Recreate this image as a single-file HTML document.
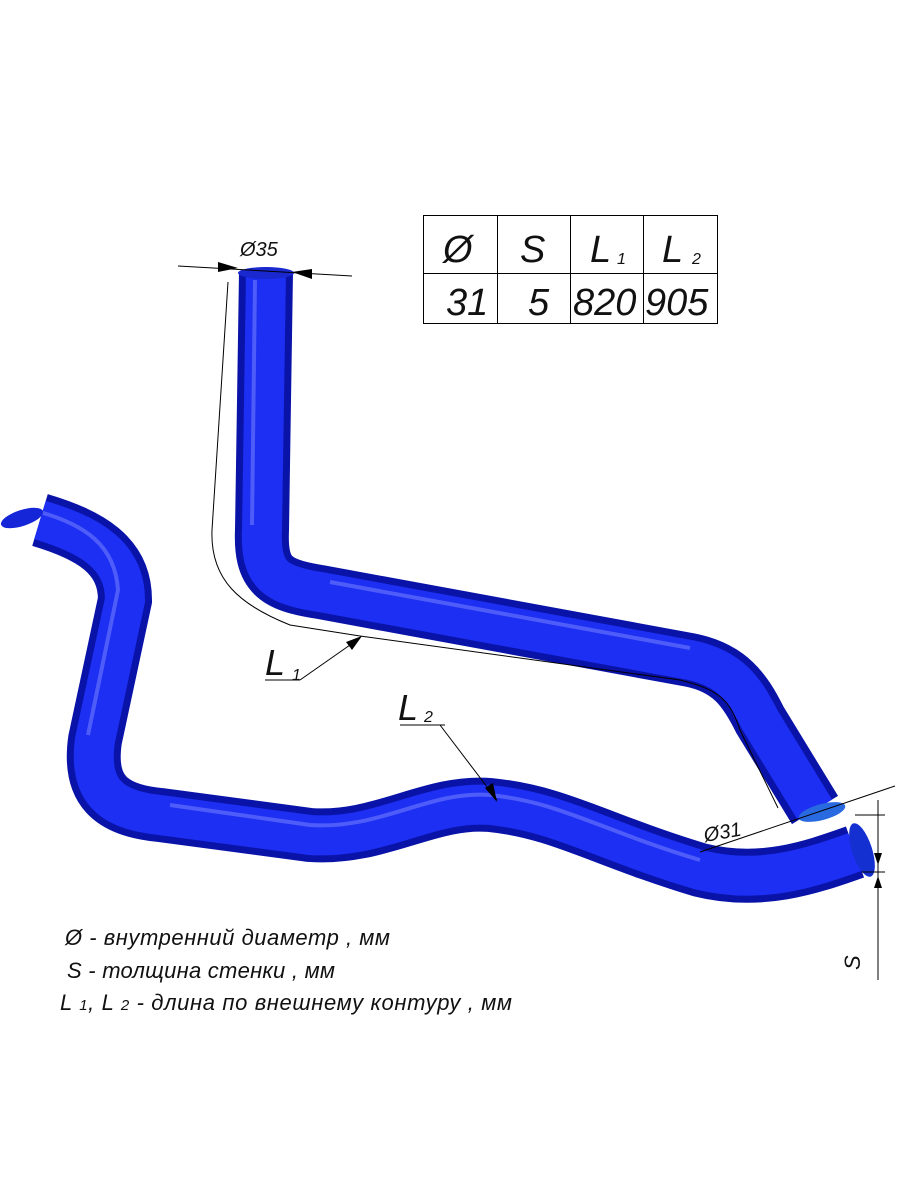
<!DOCTYPE html>
<html><head><meta charset="utf-8"><style>
body{margin:0;background:#fff;width:899px;height:1200px;overflow:hidden}
svg{display:block}
text{font-family:"Liberation Sans",sans-serif;font-style:italic;fill:#111}
</style></head><body>
<svg width="899" height="1200" viewBox="0 0 899 1200">
<!-- lower hose -->
<path d="M40,520 C90,535 125,555 125,600 L95,740 C88,790 110,810 160,815 L310,835 C380,840 430,800 490,805 C560,812 600,840 700,870 C760,885 810,868 855,852" fill="none" stroke="#0a13a8" stroke-width="54" stroke-linecap="butt"/>
<path d="M40,520 C90,535 125,555 125,600 L95,740 C88,790 110,810 160,815 L310,835 C380,840 430,800 490,805 C560,812 600,840 700,870 C760,885 810,868 855,852" fill="none" stroke="#1c2ff2" stroke-width="40"/>
<path d="M40,512 C85,525 115,545 118,590 L88,735 M170,805 L310,825 C380,830 430,790 490,795 C560,802 600,830 700,860" fill="none" stroke="#6f7cff" stroke-width="4" opacity="0.6"/>
<ellipse cx="862" cy="850" rx="10" ry="28" fill="#1530d0" transform="rotate(-18 862 850)"/>
<ellipse cx="22" cy="518" rx="8" ry="22" fill="#1525d8" transform="rotate(72 22 518)"/>
<!-- upper hose -->
<path d="M266,272 L262,530 C260,575 275,585 320,592 L690,660 C730,668 745,690 760,720 L815,810" fill="none" stroke="#0a13a8" stroke-width="54"/>
<path d="M266,272 L262,530 C260,575 275,585 320,592 L690,660 C730,668 745,690 760,720 L815,810" fill="none" stroke="#1c2ff2" stroke-width="40"/>
<path d="M255,280 L252,525 M330,582 L690,648" fill="none" stroke="#6f7cff" stroke-width="4" opacity="0.6"/>
<ellipse cx="822" cy="812" rx="24" ry="8" fill="#2a6ae0" transform="rotate(-15 822 812)"/>
<ellipse cx="266" cy="273" rx="28" ry="6" fill="#1a28d0"/>
<!-- contour lines -->
<path d="M228,282 L212,530 C210,580 240,605 290,625 L360,636 L680,680 C720,690 730,700 740,730 L778,808" fill="none" stroke="#000" stroke-width="1"/>
<!-- dimension lines -->
<line x1="178" y1="266" x2="352" y2="276" stroke="#000"/>
<path d="M238,268 l-20,-6 l0,10z M292,272 l20,-3 l0,10z" fill="#000"/>
<text x="240" y="256" font-size="20">Ø35</text>
<line x1="300" y1="680" x2="360" y2="638" stroke="#000"/>
<line x1="265" y1="680" x2="300" y2="680" stroke="#000"/>
<path d="M362,636 l-16,6 l6,8z" fill="#000"/>
<text x="265" y="675" font-size="36">L</text><text x="292" y="680" font-size="16">1</text>
<line x1="400" y1="725" x2="445" y2="725" stroke="#000"/>
<line x1="440" y1="725" x2="497" y2="800" stroke="#000"/>
<path d="M497,802 l-12,-14 l8,-5z" fill="#000"/>
<text x="398" y="720" font-size="36">L</text><text x="424" y="722" font-size="16">2</text>
<line x1="700" y1="852" x2="895" y2="786" stroke="#000"/>
<text x="705" y="842" font-size="20" transform="rotate(-10 705 842)">Ø31</text>
<line x1="855" y1="815" x2="885" y2="815" stroke="#000"/>
<line x1="862" y1="872" x2="885" y2="872" stroke="#000"/>
<line x1="878" y1="800" x2="878" y2="980" stroke="#000"/>
<path d="M878,865 l-4,-12 l8,0z M878,876 l-4,12 l8,0z" fill="#000"/>
<text x="860" y="970" font-size="22" transform="rotate(-90 860 970)">S</text>
<!-- table -->
<g stroke="#000" stroke-width="1" fill="none">
<rect x="423.5" y="215.5" width="294" height="108"/>
<line x1="423" y1="273.5" x2="717" y2="273.5"/>
<line x1="497.5" y1="215" x2="497.5" y2="323"/>
<line x1="570.5" y1="215" x2="570.5" y2="323"/>
<line x1="643.5" y1="215" x2="643.5" y2="323"/>
</g>
<text x="443" y="262" font-size="38">Ø</text>
<text x="520" y="262" font-size="38">S</text>
<text x="590" y="262" font-size="38">L</text><text x="617" y="264" font-size="16">1</text>
<text x="662" y="262" font-size="38">L</text><text x="692" y="264" font-size="16">2</text>
<text x="446" y="315" font-size="38">31</text>
<text x="528" y="315" font-size="38">5</text>
<text x="573" y="315" font-size="38">820</text>
<text x="645" y="315" font-size="38">905</text>
<!-- legend -->
<text x="65" y="945" font-size="22" textLength="325">Ø -  внутренний диаметр , мм</text>
<text x="67" y="978" font-size="22" textLength="268">S -  толщина стенки , мм</text>
<text x="60" y="1010" font-size="22" textLength="452">L <tspan font-size="15">1</tspan>, L <tspan font-size="15">2</tspan> - длина по внешнему контуру , мм</text>
</svg>
</body></html>
